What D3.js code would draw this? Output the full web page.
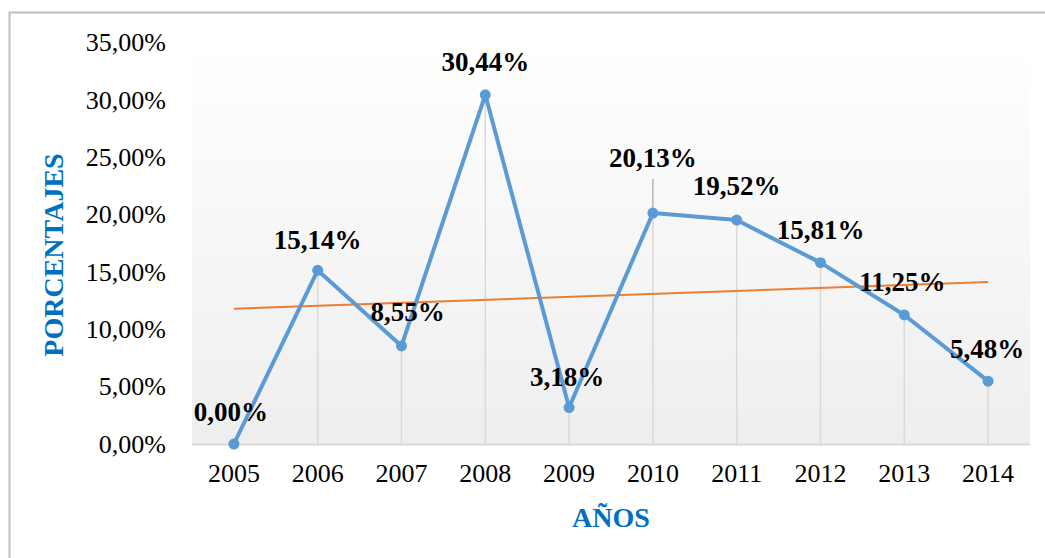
<!DOCTYPE html>
<html>
<head>
<meta charset="utf-8">
<script src="https://cdn.jsdelivr.net/npm/d3@7"></script>
<style>
  html, body { margin: 0; padding: 0; background: #fff; }
  svg { display: block; font-family: "Liberation Serif", "Times New Roman", serif; }
</style>
</head>
<body>
<svg id="chart" width="1045" height="558"></svg>
<script>
// data
var years = ["2005", "2006", "2007", "2008", "2009", "2010", "2011", "2012", "2013", "2014"];
var values = [0.00, 15.14, 8.55, 30.44, 3.18, 20.13, 19.52, 15.81, 11.25, 5.48];
var yTicks = [0, 5, 10, 15, 20, 25, 30, 35];
// label nudges (px) where excel put them off-centre
var labelDx = [-3, 0, 6, 0, -2, 0, 0, 0, -2, -1];
var labelDy = [-32, -30, -34, -33, -31, -55, -34, -33, -33, -32];

var colorLine = "#5B9BD5";
var colorTrend = "#ED7D31";
var colorTitle = "#0070C0";
var colorDrop = "#d9d9d9";

var svg = d3.select("#chart");
var margin = { left: 192, right: 1030, top: 42.5, bottom: 444 };

var x = d3.scaleBand().domain(years).range([margin.left, margin.right]);
var y = d3.scaleLinear().domain([0, 35]).range([margin.bottom, margin.top]);
var cx = function(d) { return x(d) + x.bandwidth() / 2; };

// chart border (only top + left visible, rest runs off the picture)
svg.append("rect")
  .attr("x", 9.5).attr("y", 12.5)
  .attr("width", 1100).attr("height", 600)
  .attr("fill", "none")
  .attr("stroke", "#bfbfbf")
  .attr("stroke-width", 2);

// plot area gradient
var grad = svg.append("defs").append("linearGradient")
  .attr("id", "plotbg").attr("x1", 0).attr("y1", 0).attr("x2", 0).attr("y2", 1);
grad.append("stop").attr("offset", "0%").attr("stop-color", "#ffffff");
grad.append("stop").attr("offset", "100%").attr("stop-color", "#eeeeee");

svg.append("rect")
  .attr("x", margin.left).attr("y", margin.top)
  .attr("width", margin.right - margin.left)
  .attr("height", margin.bottom - margin.top)
  .attr("fill", "url(#plotbg)");

// y axis labels
var fmt = function(v) { return d3.format(".2f")(v).replace(".", ",") + "%"; };
var yAxis = svg.append("g")
  .attr("transform", "translate(" + margin.left + ",0)")
  .call(d3.axisLeft(y).tickValues(yTicks).tickFormat(fmt).tickSize(0).tickPadding(26));
yAxis.select(".domain").remove();
yAxis.selectAll("text")
  .attr("font-size", 26)
  .attr("font-family", "Liberation Serif, Times New Roman, serif")
  .attr("fill", "#000");

// x axis
var xAxis = svg.append("g")
  .attr("transform", "translate(0," + margin.bottom + ")")
  .call(d3.axisBottom(x).tickSize(0).tickPadding(20));
xAxis.select(".domain").remove();
xAxis.selectAll("text")
  .attr("font-size", 26)
  .attr("font-family", "Liberation Serif, Times New Roman, serif")
  .attr("fill", "#000");

// drop lines
svg.append("g").selectAll("line")
  .data(years)
  .join("line")
  .attr("x1", function(d) { return cx(d); })
  .attr("x2", function(d) { return cx(d); })
  .attr("y1", function(d, i) { return y(values[i]); })
  .attr("y2", margin.bottom)
  .attr("stroke", colorDrop)
  .attr("stroke-width", 1.5);

// category axis line
svg.append("line")
  .attr("x1", margin.left).attr("x2", margin.right)
  .attr("y1", margin.bottom + 0.5).attr("y2", margin.bottom + 0.5)
  .attr("stroke", colorDrop).attr("stroke-width", 2);

// leader line for the moved 2010 label
svg.append("line")
  .attr("x1", cx("2010")).attr("x2", cx("2010"))
  .attr("y1", y(values[5])).attr("y2", y(values[5]) + labelDy[5] + 21)
  .attr("stroke", "#a6a6a6").attr("stroke-width", 1.2);

// linear trendline
var n = values.length;
var mx = d3.mean(d3.range(n)), my = d3.mean(values);
var slope = d3.sum(values, function(v, i) { return (i - mx) * (v - my); }) /
            d3.sum(d3.range(n), function(i) { return (i - mx) * (i - mx); });
var icpt = my - slope * mx;
svg.append("line")
  .attr("x1", cx(years[0])).attr("y1", y(icpt))
  .attr("x2", cx(years[n - 1])).attr("y2", y(icpt + slope * (n - 1)))
  .attr("stroke", colorTrend)
  .attr("stroke-width", 2);

// series line
var line = d3.line()
  .x(function(d, i) { return cx(years[i]); })
  .y(function(d) { return y(d); });

svg.append("path")
  .datum(values)
  .attr("d", line)
  .attr("fill", "none")
  .attr("stroke", colorLine)
  .attr("stroke-width", 4)
  .attr("stroke-linejoin", "round");

svg.append("g").selectAll("circle")
  .data(values)
  .join("circle")
  .attr("cx", function(d, i) { return cx(years[i]); })
  .attr("cy", function(d) { return y(d); })
  .attr("r", 5.5)
  .attr("fill", colorLine);

// data labels
svg.append("g").selectAll("text")
  .data(values)
  .join("text")
  .attr("x", function(d, i) { return cx(years[i]) + labelDx[i]; })
  .attr("y", function(d, i) { return y(d) + labelDy[i]; })
  .attr("text-anchor", "middle")
  .attr("dominant-baseline", "central")
  .attr("font-size", 27)
  .attr("font-weight", "bold")
  .attr("fill", "#000")
  .text(fmt);

// axis titles
svg.append("text")
  .attr("transform", "translate(53,255) rotate(-90)")
  .attr("text-anchor", "middle")
  .attr("dominant-baseline", "central")
  .attr("font-size", 28)
  .attr("font-weight", "bold")
  .attr("fill", colorTitle)
  .text("PORCENTAJES");

svg.append("text")
  .attr("x", 611).attr("y", 517)
  .attr("text-anchor", "middle")
  .attr("dominant-baseline", "central")
  .attr("font-size", 28)
  .attr("font-weight", "bold")
  .attr("fill", colorTitle)
  .text("AÑOS");
</script>
</body>
</html>
